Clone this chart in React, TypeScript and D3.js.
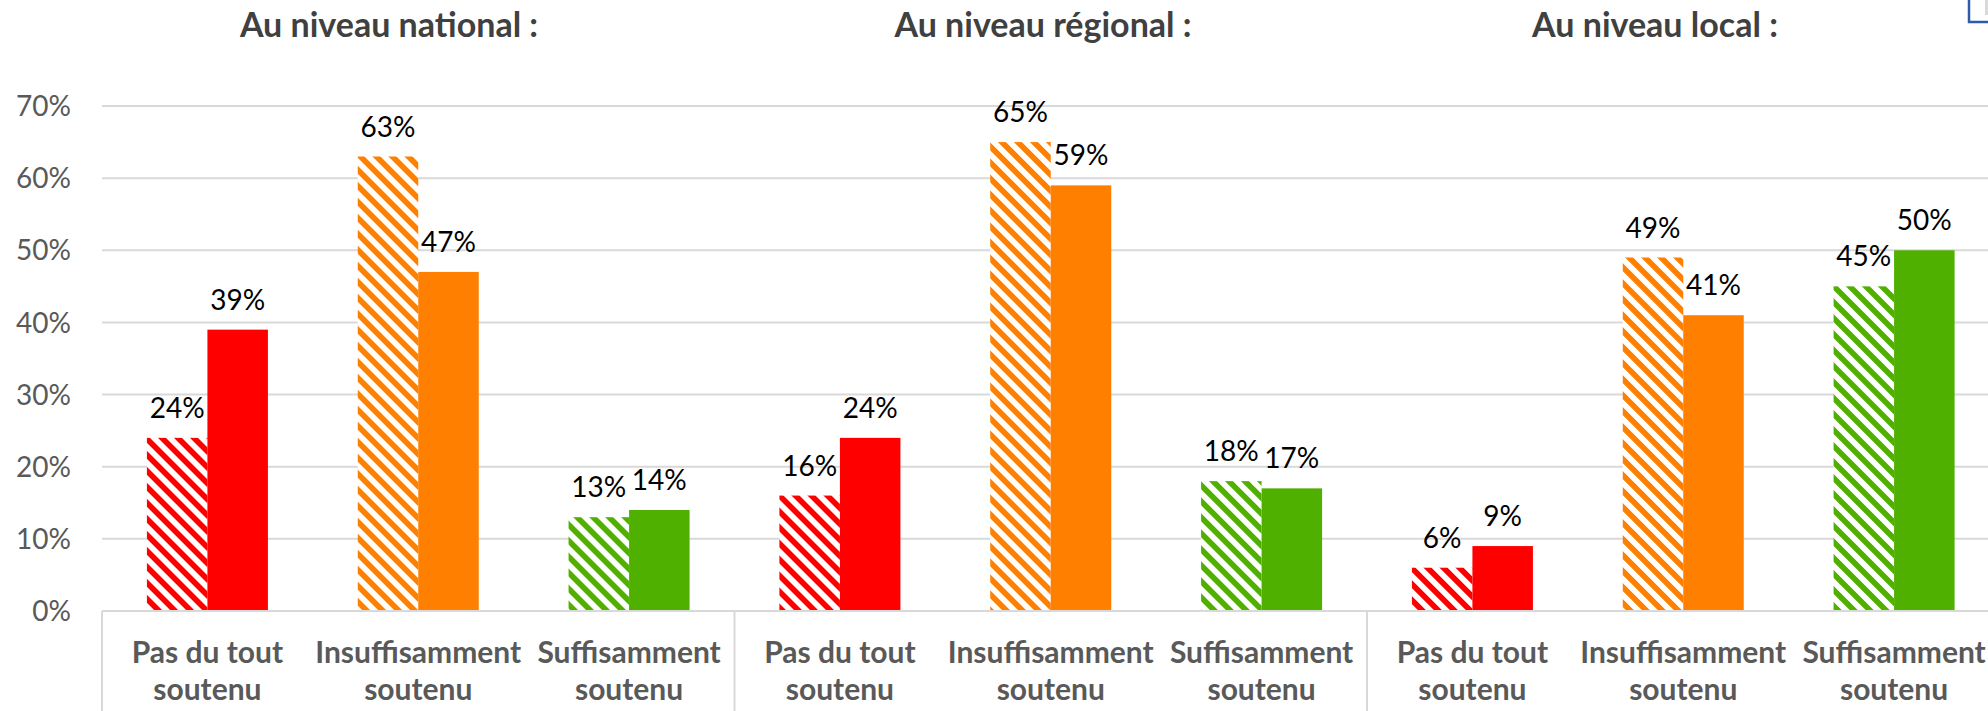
import React from "react";
import { scaleBand, scaleLinear, range } from "d3";

const width = 1988;
const height = 711;

const groupTitles = ["Au niveau national :", "Au niveau régional :", "Au niveau local :"];
const categoryLines = [
  ["Pas du tout", "soutenu"],
  ["Insuffisamment", "soutenu"],
  ["Suffisamment", "soutenu"],
];
const categoryColors = ["#FF0000", "#FF8000", "#50B000"];

// hatched = first series, solid = second series
const nationalHatched = [24, 63, 13];
const nationalSolid = [39, 47, 14];
const regionalHatched = [16, 65, 18];
const regionalSolid = [24, 59, 17];
const localHatched = [6, 49, 45];
const localSolid = [9, 41, 50];

const yTicks = [0, 10, 20, 30, 40, 50, 60, 70];

const hatchedByGroup = [nationalHatched, regionalHatched, localHatched];
const solidByGroup = [nationalSolid, regionalSolid, localSolid];

// title boxes sit a little left of the group centres in the original
const titleX = [389, 1043, 1655];

const margin = { left: 102, top: 106, baseline: 611 };
const plotRight = 1999.5;

export default function App() {
  const rows = hatchedByGroup.flatMap((g, gi) =>
    g.map((v, ci) => ({
      key: gi * 3 + ci,
      group: gi,
      cat: ci,
      hatched: v,
      solid: solidByGroup[gi][ci],
    }))
  );

  const x0 = scaleBand<number>()
    .domain(rows.map((d) => d.key))
    .range([margin.left, plotRight])
    .paddingInner(0.426)
    .paddingOuter(0.213);

  const x1 = scaleBand<string>()
    .domain(["hatched", "solid"])
    .range([0, x0.bandwidth()]);

  const groupScale = scaleBand<number>()
    .domain(range(groupTitles.length))
    .range([margin.left, plotRight]);

  const y = scaleLinear().domain([0, 70]).range([margin.baseline, margin.top]);

  const font = "Lato, 'Open Sans', sans-serif";

  return (
    <svg
      width={width}
      height={height}
      style={{ position: "absolute", left: 0, top: 0, display: "block", background: "#fff" }}
      fontFamily={font}
    >
      <defs>
        {categoryColors.map((c, i) => (
          <pattern
            key={i}
            id={`hatch-${i}`}
            patternUnits="userSpaceOnUse"
            width={11.31}
            height={11.31}
            patternTransform="rotate(45)"
          >
            <rect width={11.31} height={11.31} fill="#fff" />
            <rect width={11.31} height={5.66} fill={c} />
          </pattern>
        ))}
      </defs>

      {yTicks.map((t) => (
        <g key={t}>
          {t > 0 && (
            <line x1={margin.left} x2={width} y1={y(t)} y2={y(t)} stroke="#D9D9D9" strokeWidth={2} />
          )}
          <text x={71} y={y(t)} dy="0.36em" textAnchor="end" fontSize={28} fill="#595959">
            {t}%
          </text>
        </g>
      ))}

      {rows.map((d) => {
        const bx = x0(d.key)!;
        const hx = bx + x1("hatched")!;
        const sx = bx + x1("solid")!;
        const bw = x1.bandwidth();
        return (
          <g key={d.key}>
            <rect
              x={hx}
              y={y(d.hatched)}
              width={bw}
              height={y(0) - y(d.hatched)}
              fill={`url(#hatch-${d.cat})`}
            />
            <rect x={sx} y={y(d.solid)} width={bw} height={y(0) - y(d.solid)} fill={categoryColors[d.cat]} />
            <text x={hx + bw / 2} y={y(d.hatched) - 20} textAnchor="middle" fontSize={28} fill="#000">
              {d.hatched}%
            </text>
            <text x={sx + bw / 2} y={y(d.solid) - 20} textAnchor="middle" fontSize={28} fill="#000">
              {d.solid}%
            </text>
            {categoryLines[d.cat].map((line, li) => (
              <text
                key={li}
                x={bx + x0.bandwidth() / 2}
                y={663 + li * 37}
                textAnchor="middle"
                fontSize={30}
                fontWeight="bold"
                fill="#595959"
              >
                {line}
              </text>
            ))}
          </g>
        );
      })}

      <line x1={margin.left} x2={width} y1={y(0)} y2={y(0)} stroke="#D9D9D9" strokeWidth={2} />
      {groupScale.domain().map((g) => (
        <line
          key={g}
          x1={groupScale(g)!}
          x2={groupScale(g)!}
          y1={y(0)}
          y2={height}
          stroke="#D9D9D9"
          strokeWidth={2}
        />
      ))}

      {groupTitles.map((t, i) => (
        <text key={t} x={titleX[i]} y={37} textAnchor="middle" fontSize={34} fontWeight="bold" fill="#404040">
          {t}
        </text>
      ))}

      <path d="M1969,0 V22 H1988" fill="none" stroke="#2F5BA8" strokeWidth={2.5} />
      <rect x={1985} y={0} width={3} height={15} fill="#D9D9D9" />
    </svg>
  );
}
